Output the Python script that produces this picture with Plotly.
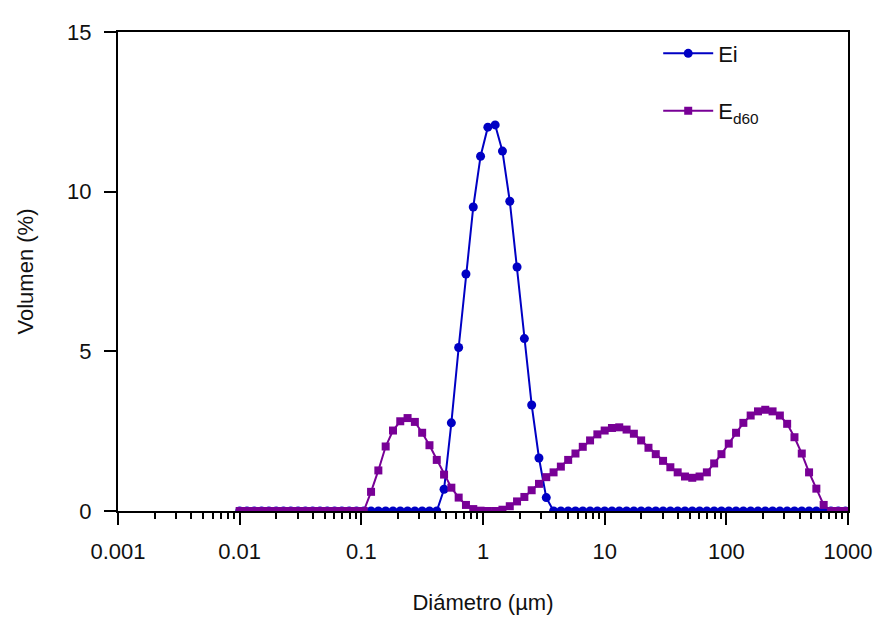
import plotly.graph_objects as go

# Particle size bins (µm)
diametro = [0.0100, 0.01148, 0.01318, 0.01514, 0.01738, 0.01995, 0.02291, 0.02630, 0.03020, 0.03467,
            0.03981, 0.04571, 0.05248, 0.06026, 0.06918, 0.07943, 0.09120, 0.1047, 0.1202, 0.1380,
            0.1585, 0.1820, 0.2089, 0.2399, 0.2754, 0.3162, 0.3631, 0.4169, 0.4786, 0.5495,
            0.6310, 0.7244, 0.8318, 0.9550, 1.096, 1.259, 1.445, 1.660, 1.905, 2.188,
            2.512, 2.884, 3.311, 3.802, 4.365, 5.012, 5.754, 6.607, 7.586, 8.710,
            10.00, 11.48, 13.18, 15.14, 17.38, 19.95, 22.91, 26.30, 30.20, 34.67,
            39.81, 45.71, 52.48, 60.26, 69.18, 79.43, 91.20, 104.7, 120.2, 138.0,
            158.5, 182.0, 208.9, 239.9, 275.4, 316.2, 363.1, 416.9, 478.6, 549.5,
            631.0, 724.4, 831.8, 955.0]

ei = [0]*28 + [0.68, 2.76, 5.12, 7.42, 9.52, 11.11, 12.02, 12.09, 11.27, 9.70,
               7.64, 5.40, 3.32, 1.66, 0.42] + [0]*41

ed60 = [0]*18 + [0.60, 1.27, 2.02, 2.52, 2.81, 2.91, 2.79, 2.45, 2.06, 1.60,
                 1.14, 0.73, 0.42, 0.19, 0.06, 0.01, 0.0, 0.0, 0.04, 0.15,
                 0.30, 0.44, 0.65, 0.85, 1.06, 1.21, 1.39, 1.60, 1.80, 2.01,
                 2.21, 2.40, 2.52, 2.60, 2.62, 2.55, 2.42, 2.21, 1.98, 1.78,
                 1.57, 1.37, 1.21, 1.08, 1.04, 1.08, 1.21, 1.49, 1.78, 2.11,
                 2.45, 2.76, 2.99, 3.12, 3.17, 3.12, 2.99, 2.73, 2.31, 1.80,
                 1.21, 0.70, 0.19] + [0]*3

x_tickvals = [0.001, 0.01, 0.1, 1, 10, 100, 1000]
x_ticktext = ["0.001", "0.01", "0.1", "1", "10", "100", "1000"]
y_tickvals = [0, 5, 10, 15]

BLUE = "#0000C4"
PURPLE = "#780096"
FONT = "Liberation Sans, Arial, sans-serif"

fig = go.Figure()
fig.add_trace(go.Scatter(x=diametro, y=ei, mode="lines+markers", name="Ei",
                         line=dict(color=BLUE, width=2),
                         marker=dict(symbol="circle", size=9, color=BLUE),
                         legend="legend", showlegend=True))
fig.add_trace(go.Scatter(x=diametro, y=ed60, mode="lines+markers", name="E<sub>d60</sub>",
                         line=dict(color=PURPLE, width=2),
                         marker=dict(symbol="square", size=8, color=PURPLE),
                         legend="legend2", showlegend=True))

fig.update_layout(
    width=887, height=619,
    # page body adds an 8px offset; margins compensate
    margin=dict(l=110, r=47, t=17, b=116),
    plot_bgcolor="white", paper_bgcolor="white",
    showlegend=True,
    font=dict(family=FONT, size=22, color="#111111"),
    legend=dict(x=0.74, y=0.955, xanchor="left", yanchor="middle",
                bgcolor="rgba(0,0,0,0)", font=dict(size=22), itemwidth=50),
    legend2=dict(x=0.74, y=0.835, xanchor="left", yanchor="middle",
                 bgcolor="rgba(0,0,0,0)", font=dict(size=22), itemwidth=50),
)

fig.update_xaxes(type="log", range=[-3, 3],
                 tickvals=x_tickvals, ticktext=x_ticktext,
                 ticks="outside", ticklen=12, tickwidth=2, tickcolor="black",
                 ticklabelstandoff=8,
                 showline=True, linecolor="black", linewidth=2, mirror=True,
                 showgrid=False, zeroline=False,
                 minor=dict(ticks="outside", ticklen=6, tickwidth=2, tickcolor="black",
                            dtick="D1", showgrid=False),
                 tickfont=dict(size=22),
                 title=dict(text="Diámetro (µm)", font=dict(size=22), standoff=31))
fig.update_yaxes(range=[0, 15], tickvals=y_tickvals,
                 ticks="outside", ticklen=12, tickwidth=2, tickcolor="black",
                 ticklabelstandoff=8,
                 showline=True, linecolor="black", linewidth=2, mirror=True,
                 showgrid=False, zeroline=False,
                 tickfont=dict(size=22),
                 title=dict(text="Volumen (%)", font=dict(size=22), standoff=27))

fig.write_html("out.html")
